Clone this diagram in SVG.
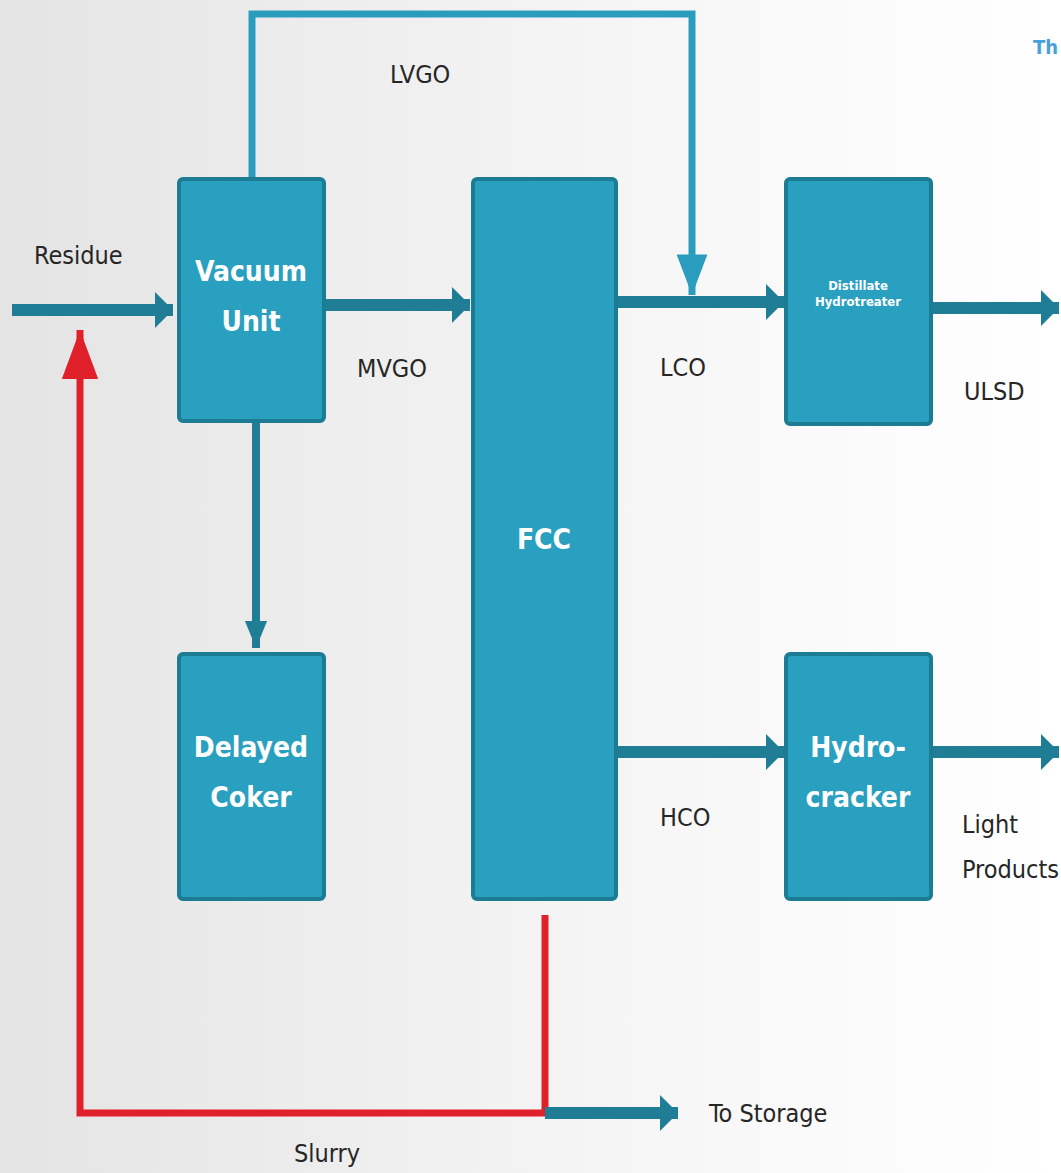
<svg xmlns="http://www.w3.org/2000/svg" width="1061" height="1173" viewBox="0 0 1061 1173">
<defs>
<linearGradient id="bg" x1="0" y1="0" x2="1" y2="0">
<stop offset="0" stop-color="#e4e4e4"/>
<stop offset="0.6" stop-color="#f6f6f6"/>
<stop offset="1" stop-color="#ffffff"/>
</linearGradient>
<marker id="ah" markerWidth="1.6" markerHeight="3" refX="1.5" refY="1.5" orient="auto" markerUnits="strokeWidth">
<path d="M0,0 L1.5,1.5 L0,3 Z" fill="#1f7e95"/>
</marker>
<marker id="ahv" markerWidth="3.6" markerHeight="2.8" refX="3.4" refY="1.4" orient="auto" markerUnits="strokeWidth">
<path d="M0,0 L3.4,1.4 L0,2.8 Z" fill="#1f7e95"/>
</marker>
<marker id="ahl" markerWidth="6" markerHeight="4.4" refX="5.8" refY="2.2" orient="auto" markerUnits="strokeWidth">
<path d="M0,0 L5.8,2.2 L0,4.4 Z" fill="#2a9dbf"/>
</marker>
<marker id="ahr" markerWidth="7.2" markerHeight="5.2" refX="7" refY="2.6" orient="auto" markerUnits="strokeWidth">
<path d="M0,0 L7,2.6 L0,5.2 Z" fill="#e0202a"/>
</marker>
<style>
.box{fill:#2aa0c0;stroke:#1c7c93;stroke-width:4}
.bt{font-family:"DejaVu Sans Condensed","DejaVu Sans",sans-serif;font-weight:bold;fill:#ffffff;text-anchor:middle}
.lb{font-family:"DejaVu Sans Condensed","DejaVu Sans",sans-serif;fill:#262626;font-size:25px}
.main{stroke:#1f7e95;stroke-width:12;fill:none}
</style>
</defs>
<rect x="0" y="0" width="1061" height="1173" fill="url(#bg)"/>
<g id="connectors">
<path d="M252,178 V14 H692 V295" stroke="#2a9dbf" stroke-width="7" fill="none" marker-end="url(#ahl)"/>
<path d="M545,915 V1113 H80 V330" stroke="#e0202a" stroke-width="7" fill="none" marker-end="url(#ahr)"/>
<path d="M12,310 H173" class="main" marker-end="url(#ah)"/>
<path d="M325,305 H470" class="main" marker-end="url(#ah)"/>
<path d="M617,302 H784" class="main" marker-end="url(#ah)"/>
<path d="M932,308 H1059" class="main" marker-end="url(#ah)"/>
<path d="M617,752 H784" class="main" marker-end="url(#ah)"/>
<path d="M932,752 H1059" class="main" marker-end="url(#ah)"/>
<path d="M545,1113 H678" class="main" marker-end="url(#ah)"/>
<path d="M256,422 V648" stroke="#1f7e95" stroke-width="8" fill="none" marker-end="url(#ahv)"/>
</g>
<g id="vacuum">
<rect class="box" x="179" y="179" width="145" height="242" rx="4"/>
<text class="bt" x="251" y="281" font-size="28">Vacuum</text>
<text class="bt" x="251" y="331" font-size="28">Unit</text>
</g>
<g id="coker">
<rect class="box" x="179" y="654" width="145" height="245" rx="4"/>
<text class="bt" x="251" y="757" font-size="28">Delayed</text>
<text class="bt" x="251" y="807" font-size="28">Coker</text>
</g>
<g id="fcc">
<rect class="box" x="473" y="179" width="143" height="720" rx="4"/>
<text class="bt" x="544" y="549" font-size="28">FCC</text>
</g>
<g id="hydrotreater">
<rect class="box" x="786" y="179" width="145" height="245" rx="4"/>
<text class="bt" x="858" y="290" font-size="13">Distillate</text>
<text class="bt" x="858" y="306" font-size="13">Hydrotreater</text>
</g>
<g id="hydrocracker">
<rect class="box" x="786" y="654" width="145" height="245" rx="4"/>
<text class="bt" x="858" y="757" font-size="28">Hydro-</text>
<text class="bt" x="858" y="807" font-size="28">cracker</text>
</g>
<g id="labels">
<text class="lb" x="34" y="264">Residue</text>
<text class="lb" x="390" y="83">LVGO</text>
<text class="lb" x="357" y="377">MVGO</text>
<text class="lb" x="660" y="376">LCO</text>
<text class="lb" x="964" y="400">ULSD</text>
<text class="lb" x="660" y="826">HCO</text>
<text class="lb" x="962" y="833">Light</text>
<text class="lb" x="962" y="878">Products</text>
<text class="lb" x="294" y="1162">Slurry</text>
<text class="lb" x="709" y="1122">To Storage</text>
<text x="1033" y="54" font-family="DejaVu Sans Condensed,sans-serif" font-size="20" font-weight="bold" fill="#4aa0d8">Th</text>
</g>
</svg>
